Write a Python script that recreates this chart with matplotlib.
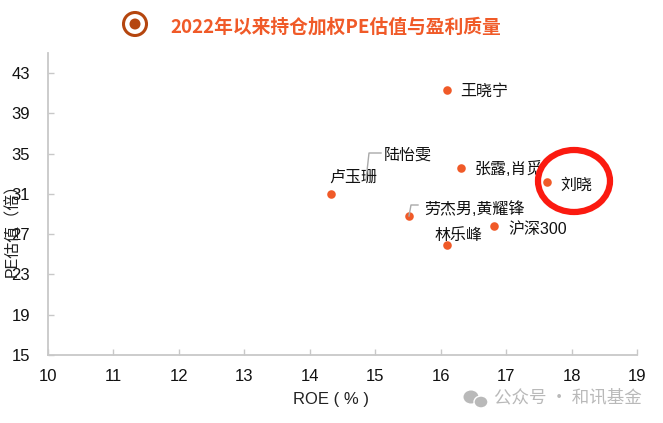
import matplotlib
matplotlib.use("Agg")
import matplotlib.pyplot as plt
from matplotlib.patches import Ellipse

plt.rcParams['font.family'] = ['Liberation Sans', 'Noto Sans CJK SC', 'DejaVu Sans']

W, H = 663, 423

names = ['王晓宁', '张露,肖觅', '刘晓', '卢玉珊', '劳杰男,黄耀锋', '沪深300', '林乐峰']
roe = [16.09, 16.31, 17.62, 14.33, 15.52, 16.82, 16.10]
pe = [41.3, 33.6, 32.2, 31.0, 28.8, 27.8, 25.9]
# label offset from the point, in pixels
offsets = [(14, -1), (14, -1), (14, -3), (-2, 17), (15, 7), (14, -3), (-13, 10)]
x_ticks = list(range(10, 20))
y_ticks = list(range(15, 47, 4))

orange = '#f05a28'
grey = '#c8c8c8'

fig = plt.figure(figsize=(W / 100, H / 100), dpi=100)


def fx(px):
    return px / W


def fy(py):
    return 1 - py / H


ax = fig.add_axes([fx(48), fy(355), fx(637 - 48), fy(53) - fy(355)])
ax.set_xlim(10, 19)
ax.set_ylim(15, 45)
ax.set_xticks(x_ticks)
ax.set_yticks(y_ticks)
ax.tick_params(direction='in', length=4, width=1, color=grey, labelsize=12, labelcolor='#111111')
ax.tick_params(axis='x', pad=10)
ax.tick_params(axis='y', pad=13)
for s in ['top', 'right']:
    ax.spines[s].set_visible(False)
for s in ['left', 'bottom']:
    ax.spines[s].set_color(grey)
    ax.spines[s].set_linewidth(1.3)

ax.scatter(roe, pe, s=38, color=orange, zorder=3, linewidths=0)

for name, x, y, off in zip(names, roe, pe, offsets):
    ax.annotate(name, (x, y), xytext=off, textcoords='offset pixels', fontsize=11.5,
                va='center', ha='left', color='#111111', zorder=4)

# leader lines, figure pixels
for xs, ys in [([381, 369, 366], [153, 153, 180]), ([418, 411, 409], [205, 205, 216])]:
    fig.add_artist(plt.Line2D([fx(v) for v in xs], [fy(v) for v in ys], color='#aaaaaa', lw=1))
fig.text(fx(384), fy(155), '陆怡雯', fontsize=11.5, va='center', color='#111111')

fig.text(fx(331), fy(399), 'ROE ( % )', fontsize=12, ha='center', va='center', color='#222222')
# sits on top of the tick labels, same as the original
fig.text(fx(12), fy(226), 'PE估值（倍）', fontsize=11.5, rotation=90, ha='center', va='center', color='#222222')

# title with its bullet
fig.add_artist(Ellipse((fx(135), fy(24)), 23 / W, 23 / H, fc='white', ec='#b5460f', lw=2.2,
                       transform=fig.transFigure))
fig.add_artist(Ellipse((fx(135), fy(24)), 11 / W, 11 / H, fc='#b5460f', ec='none',
                       transform=fig.transFigure))
fig.text(fx(336), fy(27), '2022年以来持仓加权PE估值与盈利质量', fontsize=13.5, ha='center', va='center',
         color=orange, fontweight='bold', family=['Noto Sans CJK SC', 'DejaVu Sans'])

# red hand-drawn ring
fig.add_artist(Ellipse((fx(574), fy(181)), 72 / W, 62 / H, fc='none', ec='#fb1a10', lw=4.5,
                       transform=fig.transFigure, zorder=6))

# watermark
wm = '#b9b9b9'
fig.add_artist(Ellipse((fx(471), fy(397)), 15 / W, 13 / H, fc=wm, ec='none', transform=fig.transFigure))
fig.add_artist(Ellipse((fx(481), fy(402)), 14 / W, 12 / H, fc=wm, ec='white', lw=1, transform=fig.transFigure))
fig.text(fx(494), fy(397), '公众号 · 和讯基金', fontsize=12.6, va='center', color=wm,
         family=['Noto Sans CJK SC', 'DejaVu Sans'])

fig.savefig('out.png', dpi=100)
